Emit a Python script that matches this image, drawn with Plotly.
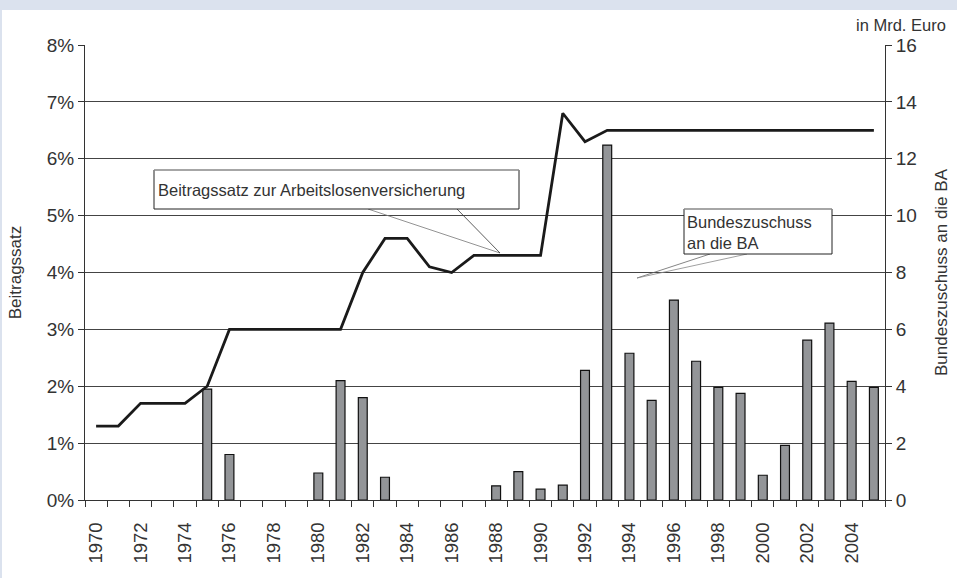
import plotly.graph_objects as go

JAHRE = list(range(1970, 2006))

# Beitragssatz zur Arbeitslosenversicherung in %
BEITRAGSSATZ = [
    1.3, 1.3, 1.7, 1.7, 1.7, 2.0, 3.0, 3.0, 3.0, 3.0,
    3.0, 3.0, 4.0, 4.6, 4.6, 4.1, 4.0, 4.3, 4.3, 4.3,
    4.3, 6.8, 6.3, 6.5, 6.5, 6.5, 6.5, 6.5, 6.5, 6.5,
    6.5, 6.5, 6.5, 6.5, 6.5, 6.5,
]

# Bundeszuschuss an die BA in Mrd. Euro (None = kein Zuschuss)
ZUSCHUSS = [
    None, None, None, None, None, 3.9, 1.6, None, None, None,
    0.95, 4.2, 3.6, 0.8, None, None, None, None, 0.5, 1.0,
    0.38, 0.52, 4.56, 12.48, 5.16, 3.5, 7.03, 4.88, 3.96, 3.75,
    0.87, 1.92, 5.62, 6.22, 4.17, 3.96,
]

X_LABELS = list(range(1970, 2005, 2))

SCHRIFT = "Liberation Sans, Arial, sans-serif"
TEXT = "#333333"
LINIE = "#333333"

# Plotbereich in Pixeln (fuer Paper-Koordinaten der Callouts)
L, R, T, B = 85, 885, 45, 500


def px_x(p):
    return (p - L) / (R - L)


def px_y(p):
    return (B - p) / (B - T)


fig = go.Figure()

fig.add_trace(
    go.Bar(
        x=JAHRE,
        y=ZUSCHUSS,
        name="Bundeszuschuss an die BA",
        width=0.4,
        marker=dict(color="#939598", line=dict(color="#111111", width=1.2)),
        yaxis="y",
    )
)

fig.add_trace(
    go.Scatter(
        x=JAHRE,
        y=BEITRAGSSATZ,
        mode="lines",
        name="Beitragssatz",
        line=dict(color="#1a1a1a", width=2.8),
        yaxis="y2",
    )
)

shapes = [
    # hellblauer Rand oben und links
    dict(type="rect", xref="paper", yref="paper", x0=px_x(0), x1=px_x(957),
         y0=px_y(10), y1=px_y(0), fillcolor="#dbe2ee", line=dict(width=0), layer="above"),
    dict(type="rect", xref="paper", yref="paper", x0=px_x(0), x1=px_x(2),
         y0=px_y(578), y1=px_y(0), fillcolor="#dbe2ee", line=dict(width=0), layer="above"),
]

# Callout 1: Beitragssatz
shapes += [
    dict(type="line", xref="paper", yref="paper", x0=px_x(368), y0=px_y(209),
         x1=px_x(500), y1=px_y(253), line=dict(color="#777777", width=0.8)),
    dict(type="line", xref="paper", yref="paper", x0=px_x(457), y0=px_y(209),
         x1=px_x(500), y1=px_y(253), line=dict(color="#333333", width=0.8)),
    dict(type="rect", xref="paper", yref="paper", x0=px_x(154), x1=px_x(519),
         y0=px_y(209), y1=px_y(170), fillcolor="white", line=dict(color="#222222", width=1)),
    dict(type="line", xref="paper", yref="paper", x0=px_x(154), y0=px_y(170),
         x1=px_x(519), y1=px_y(170), line=dict(color="#bbbbbb", width=1)),
]

# Callout 2: Bundeszuschuss
shapes += [
    dict(type="line", xref="paper", yref="paper", x0=px_x(710), y0=px_y(254),
         x1=px_x(637), y1=px_y(278), line=dict(color="#666666", width=0.8)),
    dict(type="line", xref="paper", yref="paper", x0=px_x(747), y0=px_y(254),
         x1=px_x(637), y1=px_y(278), line=dict(color="#888888", width=0.8)),
    dict(type="rect", xref="paper", yref="paper", x0=px_x(684), x1=px_x(832),
         y0=px_y(254), y1=px_y(209), fillcolor="white", line=dict(color="#222222", width=1)),
    dict(type="line", xref="paper", yref="paper", x0=px_x(684), y0=px_y(209),
         x1=px_x(832), y1=px_y(209), line=dict(color="#bbbbbb", width=1)),
]

annotations = [
    dict(text="Beitragssatz zur Arbeitslosenversicherung", xref="paper", yref="paper",
         x=px_x(156), y=px_y(189.5), xanchor="left", yanchor="middle", showarrow=False,
         font=dict(family=SCHRIFT, size=16.5, color=TEXT)),
    dict(text="Bundeszuschuss<br>an die BA", xref="paper", yref="paper",
         x=px_x(685), y=px_y(232), xanchor="left", yanchor="middle", align="left",
         showarrow=False, font=dict(family=SCHRIFT, size=16.5, color=TEXT)),
    dict(text="in Mrd. Euro", xref="paper", yref="paper",
         x=px_x(948), y=px_y(25), xanchor="right", yanchor="middle", showarrow=False,
         font=dict(family=SCHRIFT, size=16.5, color=TEXT)),
]

fig.update_layout(
    width=957,
    height=578,
    margin=dict(l=L, r=957 - R, t=T, b=578 - B, autoexpand=False),
    paper_bgcolor="white",
    plot_bgcolor="white",
    showlegend=False,
    font=dict(family=SCHRIFT, size=18, color=TEXT),
    shapes=shapes,
    annotations=annotations,
    xaxis=dict(
        range=[1969.5, 2005.5],
        tickvals=X_LABELS,
        ticktext=[str(j) for j in X_LABELS],
        tickangle=-90,
        ticks="",
        ticklabelstandoff=14,
        tickfont=dict(size=18.5, color=TEXT),
        showgrid=False,
        zeroline=False,
        showline=True,
        linecolor=LINIE,
        linewidth=1,
        automargin=False,
        minor=dict(ticks="outside", tick0=1969.5, dtick=1, ticklen=6,
                   tickcolor=LINIE, showgrid=False),
    ),
    yaxis=dict(
        range=[0, 16],
        dtick=2,
        side="right",
        ticks="outside",
        ticklen=6,
        tickcolor=LINIE,
        tickfont=dict(size=19, color=TEXT),
        showgrid=True,
        gridcolor="#444444",
        gridwidth=1,
        zeroline=False,
        showline=True,
        linecolor=LINIE,
        automargin=False,
        title=dict(text="Bundeszuschuss an die BA", font=dict(size=17, color=TEXT), standoff=18),
    ),
    yaxis2=dict(
        range=[0, 8],
        dtick=1,
        ticksuffix="%",
        overlaying="y",
        side="left",
        ticks="outside",
        ticklen=6,
        tickcolor=LINIE,
        tickfont=dict(size=19, color=TEXT),
        showgrid=False,
        zeroline=False,
        showline=True,
        linecolor=LINIE,
        automargin=False,
        title=dict(text="Beitragssatz", font=dict(size=17, color=TEXT), standoff=20),
    ),
)

# Browser-Standardrand entfernen, damit die Grafik bei (0,0) beginnt
fig.write_html(
    "out.html",
    config={"displayModeBar": False},
    post_script="document.body.style.margin='0';",
)
